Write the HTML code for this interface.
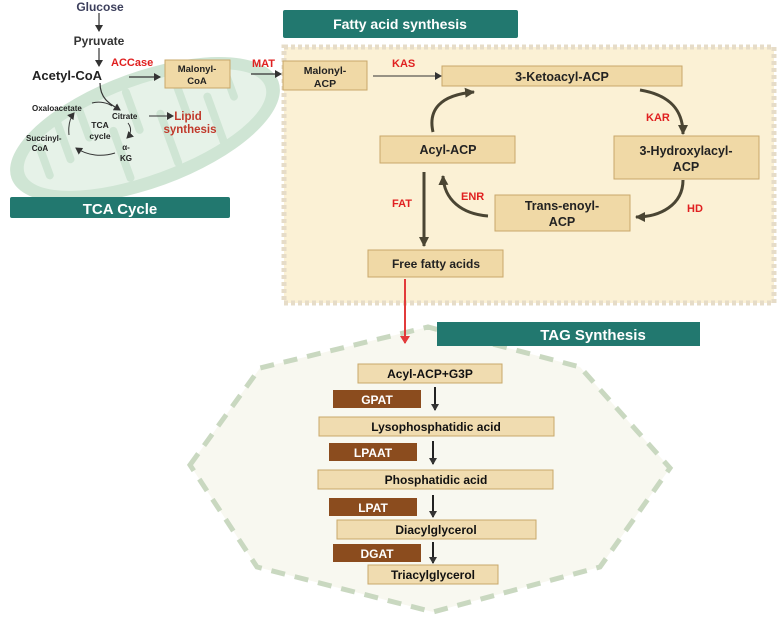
<!DOCTYPE html>
<html><head><meta charset="utf-8"><style>
html,body{margin:0;padding:0;background:#fff;}
svg{display:block;font-family:"Liberation Sans",Arial,sans-serif;font-weight:bold;}
</style></head><body>
<svg width="784" height="617" viewBox="0 0 784 617" xmlns="http://www.w3.org/2000/svg">
<defs>
<marker id="ah" markerWidth="8" markerHeight="8" refX="6" refY="4" orient="auto" markerUnits="userSpaceOnUse"><path d="M0,0 L7,4 L0,8 z" fill="#333"/></marker>
<marker id="ahb" markerWidth="12" markerHeight="12" refX="9" refY="6" orient="auto" markerUnits="userSpaceOnUse"><path d="M0,1 L10,6 L0,11 z" fill="#4a4533"/></marker>
<marker id="ahr" markerWidth="10" markerHeight="10" refX="7" refY="5" orient="auto" markerUnits="userSpaceOnUse"><path d="M0,0 L8,5 L0,10 z" fill="#e23b3b"/></marker>
</defs>

<!-- Mitochondrion -->
<g transform="rotate(-20 145 130)">
<ellipse cx="145" cy="130" rx="142" ry="58" fill="#cfe5d4"/>
<ellipse cx="145" cy="130" rx="128" ry="45" fill="#e6f2e8"/>
<g stroke="#cfe5d4" stroke-width="8" fill="none" stroke-linecap="round">
<path d="M40,110 v30 M65,92 v40 M90,88 v30 M115,120 v50 M140,88 v40 M165,120 v52 M190,88 v40 M215,120 v48 M240,94 v35"/>
</g>
</g>

<!-- Fatty acid panel -->
<rect x="284" y="47" width="490" height="256" fill="#fbf1d5" stroke="#e6dcc8" stroke-width="5" stroke-dasharray="4 3"/>

<!-- TAG hexagon -->
<polygon points="190,465 260,368 428,327 580,367 670,468 600,567 433,612 257,567" fill="#f8f8f0" stroke="#c9d8c0" stroke-width="5" stroke-dasharray="14 10"/>

<!-- headers -->
<rect x="283" y="10" width="235" height="28" rx="2" fill="#22786f"/>
<text x="400" y="29" fill="#fff" font-size="14" text-anchor="middle">Fatty acid synthesis</text>
<rect x="10" y="197" width="220" height="21" rx="2" fill="#22786f"/>
<text x="120" y="214" fill="#fff" font-size="15" text-anchor="middle">TCA Cycle</text>
<rect x="437" y="322" width="263" height="24" fill="#22786f"/>
<text x="593" y="340" fill="#fff" font-size="15" text-anchor="middle">TAG Synthesis</text>

<!-- left text -->
<text x="100" y="11" fill="#3c3f5c" font-size="12" text-anchor="middle">Glucose</text>
<line x1="99" y1="13" x2="99" y2="31" stroke="#333" stroke-width="1.2" marker-end="url(#ah)"/>
<text x="99" y="45" fill="#333" font-size="12" text-anchor="middle">Pyruvate</text>
<line x1="99" y1="48" x2="99" y2="66" stroke="#333" stroke-width="1.2" marker-end="url(#ah)"/>
<text x="32" y="80" fill="#222" font-size="13">Acetyl-CoA</text>
<text x="111" y="66" fill="#e02020" font-size="11">ACCase</text>
<line x1="129" y1="77" x2="160" y2="77" stroke="#333" stroke-width="1.2" marker-end="url(#ah)"/>
<rect x="165" y="60" width="65" height="28" fill="#f0d9a6" stroke="#c9a86a"/>
<text x="197" y="72" fill="#222" font-size="9.5" text-anchor="middle">Malonyl-</text>
<text x="197" y="84" fill="#222" font-size="9.5" text-anchor="middle">CoA</text>
<text x="252" y="67" fill="#e02020" font-size="11">MAT</text>
<line x1="251" y1="74" x2="281" y2="74" stroke="#333" stroke-width="1.2" marker-end="url(#ah)"/>

<path d="M100,83 C100,100 112,105 120,110" stroke="#333" stroke-width="1.2" fill="none" marker-end="url(#ah)"/>
<text x="32" y="111" fill="#222" font-size="8">Oxaloacetate</text>
<text x="112" y="119" fill="#222" font-size="8">Citrate</text>
<line x1="149" y1="116" x2="173" y2="116" stroke="#333" stroke-width="1" marker-end="url(#ah)"/>
<text x="188" y="120" fill="#c0392b" font-size="11.5" text-anchor="middle">Lipid</text>
<text x="190" y="133" fill="#c0392b" font-size="11.5" text-anchor="middle">synthesis</text>
<text x="100" y="128" fill="#222" font-size="8.5" text-anchor="middle">TCA</text>
<text x="100" y="139" fill="#222" font-size="8.5" text-anchor="middle">cycle</text>
<text x="26" y="141" fill="#222" font-size="8">Succinyl-</text>
<text x="40" y="151" fill="#222" font-size="8" text-anchor="middle">CoA</text>
<text x="126" y="150" fill="#222" font-size="8" text-anchor="middle">α-</text>
<text x="126" y="161" fill="#222" font-size="8" text-anchor="middle">KG</text>
<path d="M92,103 C100,101 108,103 112,106" stroke="#333" fill="none"/>
<path d="M128,123 C132,128 131,134 127,138" stroke="#333" fill="none" marker-end="url(#ah)"/>
<path d="M115,153 C102,157 88,156 76,148" stroke="#333" fill="none" marker-end="url(#ah)"/>
<path d="M69,135 C68,125 70,118 74,113" stroke="#333" fill="none" marker-end="url(#ah)"/>

<!-- Fatty acid boxes -->
<g fill="#f0d9a6" stroke="#c9a86a">
<rect x="283" y="61" width="84" height="29"/>
<rect x="442" y="66" width="240" height="20"/>
<rect x="380" y="136" width="135" height="27"/>
<rect x="614" y="136" width="145" height="43"/>
<rect x="495" y="195" width="135" height="36"/>
<rect x="368" y="250" width="135" height="27"/>
</g>
<g fill="#222" text-anchor="middle">
<text x="325" y="74" font-size="10.5">Malonyl-</text>
<text x="325" y="87" font-size="10.5">ACP</text>
<text x="562" y="81" font-size="12.5">3-Ketoacyl-ACP</text>
<text x="448" y="154" font-size="12.5">Acyl-ACP</text>
<text x="686" y="155" font-size="12.5">3-Hydroxylacyl-</text>
<text x="686" y="171" font-size="12.5">ACP</text>
<text x="562" y="210" font-size="12.5">Trans-enoyl-</text>
<text x="562" y="226" font-size="12.5">ACP</text>
<text x="436" y="268" font-size="12">Free fatty acids</text>
</g>
<line x1="373" y1="76" x2="441" y2="76" stroke="#333" stroke-width="1" marker-end="url(#ah)"/>
<g fill="#e02020" font-size="11">
<text x="392" y="67">KAS</text>
<text x="646" y="121">KAR</text>
<text x="687" y="212">HD</text>
<text x="461" y="200">ENR</text>
<text x="392" y="207">FAT</text>
</g>
<g stroke="#4a4533" stroke-width="3" fill="none">
<path d="M433,132 C428,110 440,95 474,92" marker-end="url(#ahb)"/>
<path d="M640,90 C670,95 683,110 683,134" marker-end="url(#ahb)"/>
<path d="M683,180 C683,205 660,217 636,217" marker-end="url(#ahb)"/>
<path d="M488,216 C462,214 444,200 443,176" marker-end="url(#ahb)"/>
<path d="M424,172 L424,246" marker-end="url(#ahb)"/>
</g>
<line x1="405" y1="279" x2="405" y2="343" stroke="#e23b3b" stroke-width="2" marker-end="url(#ahr)"/>

<!-- TAG boxes -->
<g fill="#f0dcb0" stroke="#c9a86a">
<rect x="358" y="364" width="144" height="19"/>
<rect x="319" y="417" width="235" height="19"/>
<rect x="318" y="470" width="235" height="19"/>
<rect x="337" y="520" width="199" height="19"/>
<rect x="368" y="565" width="130" height="19"/>
</g>
<g fill="#8b4c1e">
<rect x="333" y="390" width="88" height="18"/>
<rect x="329" y="443" width="88" height="18"/>
<rect x="329" y="498" width="88" height="18"/>
<rect x="333" y="544" width="88" height="18"/>
</g>
<g fill="#111" font-size="12" text-anchor="middle">
<text x="430" y="378">Acyl-ACP+G3P</text>
<text x="436" y="431">Lysophosphatidic acid</text>
<text x="436" y="484">Phosphatidic acid</text>
<text x="436" y="534">Diacylglycerol</text>
<text x="433" y="579">Triacylglycerol</text>
</g>
<g fill="#fff" font-size="12" text-anchor="middle">
<text x="377" y="404">GPAT</text>
<text x="373" y="457">LPAAT</text>
<text x="373" y="512">LPAT</text>
<text x="377" y="558">DGAT</text>
</g>
<g stroke="#222" stroke-width="2">
<line x1="435" y1="387" x2="435" y2="410" marker-end="url(#ah)"/>
<line x1="433" y1="441" x2="433" y2="464" marker-end="url(#ah)"/>
<line x1="433" y1="495" x2="433" y2="517" marker-end="url(#ah)"/>
<line x1="433" y1="542" x2="433" y2="563" marker-end="url(#ah)"/>
</g>
</svg>
</body></html>
